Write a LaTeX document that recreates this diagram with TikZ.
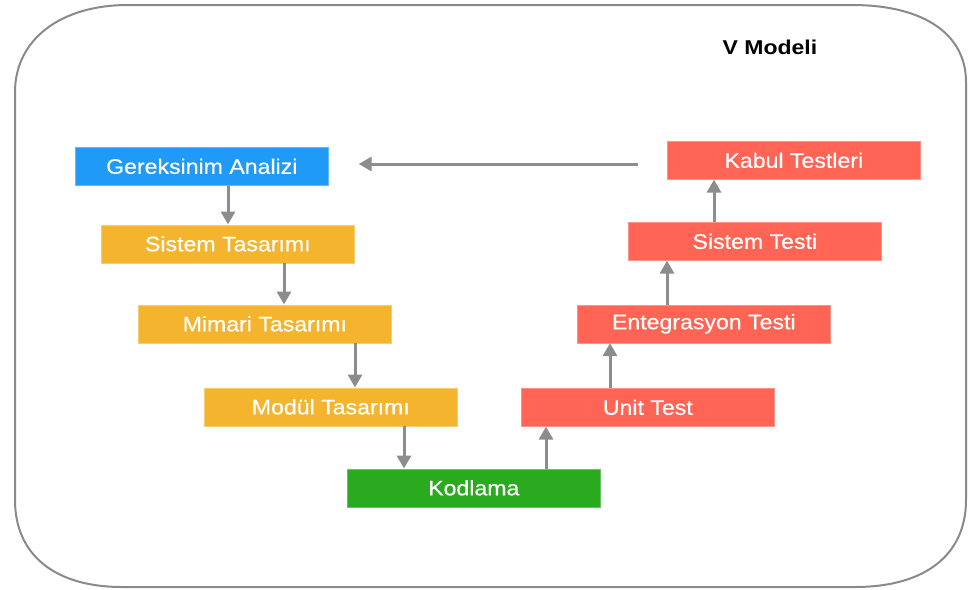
\documentclass[tikz,border=0pt]{standalone}
\usepackage{fontspec}
\setmainfont[FakeStretch=1.1,FakeBold=0.4]{Liberation Sans}
\newfontfamily\titlefont[FakeStretch=1.15]{Liberation Sans}
\usetikzlibrary{arrows.meta}
\definecolor{bblue}{HTML}{1F9BF7}
\definecolor{borange}{HTML}{F5B42E}
\definecolor{bred}{HTML}{FF6455}
\definecolor{bgreen}{HTML}{2AAA1F}
\definecolor{lgray}{HTML}{8A8A8A}
\definecolor{agray}{HTML}{8C8C8C}
\begin{document}
\begin{tikzpicture}[x=1pt,y=-1pt,
  box/.style={anchor=north west, minimum width=253pt, minimum height=38pt, inner sep=0pt,
    text=white, font=\fontsize{21}{24}\selectfont},
  bluebox/.style={box, fill=bblue, draw=bblue!70!white, line width=0.6pt},
  orangebox/.style={box, fill=borange, draw=borange!70!white, line width=0.6pt},
  redbox/.style={box, fill=bred, draw=bred!70!white, line width=0.6pt},
  greenbox/.style={box, fill=bgreen, draw=bgreen!70!white, line width=0.6pt},
  arr/.style={draw=agray, line width=3pt, -{Triangle[width=14pt,length=13pt]}},
  frame/.style={draw=lgray, line width=2pt}
]
\useasboundingbox (0,0) rectangle (968,589);
% outer frame
\draw[frame] (15,92) .. controls (15,40) and (60,5) .. (128,5)
  -- (852,5) .. controls (925,5) and (966,35) .. (966,82)
  -- (966,500) .. controls (966,555) and (925,587) .. (855,587)
  -- (122,587) .. controls (55,587) and (15,555) .. (15,500) -- cycle;

\node[font=\titlefont\bfseries\fontsize{20}{24}\selectfont] (title) at (770,47) {V Modeli};

\node[bluebox] (g) at (75,147) {Gereksinim Analizi};
\node[orangebox] (s) at (101,224.5) {Sistem Tasarımı};
\node[orangebox] (m) at (138,304.5) {Mimari Tasarımı};
\node[orangebox] (md) at (204,387.5) {Modül Tasarımı};
\node[greenbox] (k) at (347,468.5) {Kodlama};
\node[redbox] (u) at (521,388) {Unit Test};
\node[redbox] (e) at (577,304.5) {Entegrasyon Testi};
\node[redbox] (st) at (628,222) {Sistem Testi};
\node[redbox] (kt) at (667,141) {Kabul Testleri};

\coordinate (x1) at (228,0);
\coordinate (x2) at (284,0);
\coordinate (x3) at (355,0);
\coordinate (x4) at (404,0);
\coordinate (x5) at (546,0);
\coordinate (x6) at (610,0);
\coordinate (x7) at (667,0);
\coordinate (x8) at (714,0);

\draw[arr] (g.south -| x1) -- (s.north -| x1);
\draw[arr] (s.south -| x2) -- (m.north -| x2);
\draw[arr] (m.south -| x3) -- (md.north -| x3);
\draw[arr] (md.south -| x4) -- (k.north -| x4);
\draw[arr] (k.north -| x5) -- (u.south -| x5);
\draw[arr] (u.north -| x6) -- (e.south -| x6);
\draw[arr] (e.north -| x7) -- (st.south -| x7);
\draw[arr] (st.north -| x8) -- (kt.south -| x8);
\draw[arr, shorten <=29pt, shorten >=30pt] (kt.west |- 0,164) -- (g.east |- 0,164);
\end{tikzpicture}
\end{document}
